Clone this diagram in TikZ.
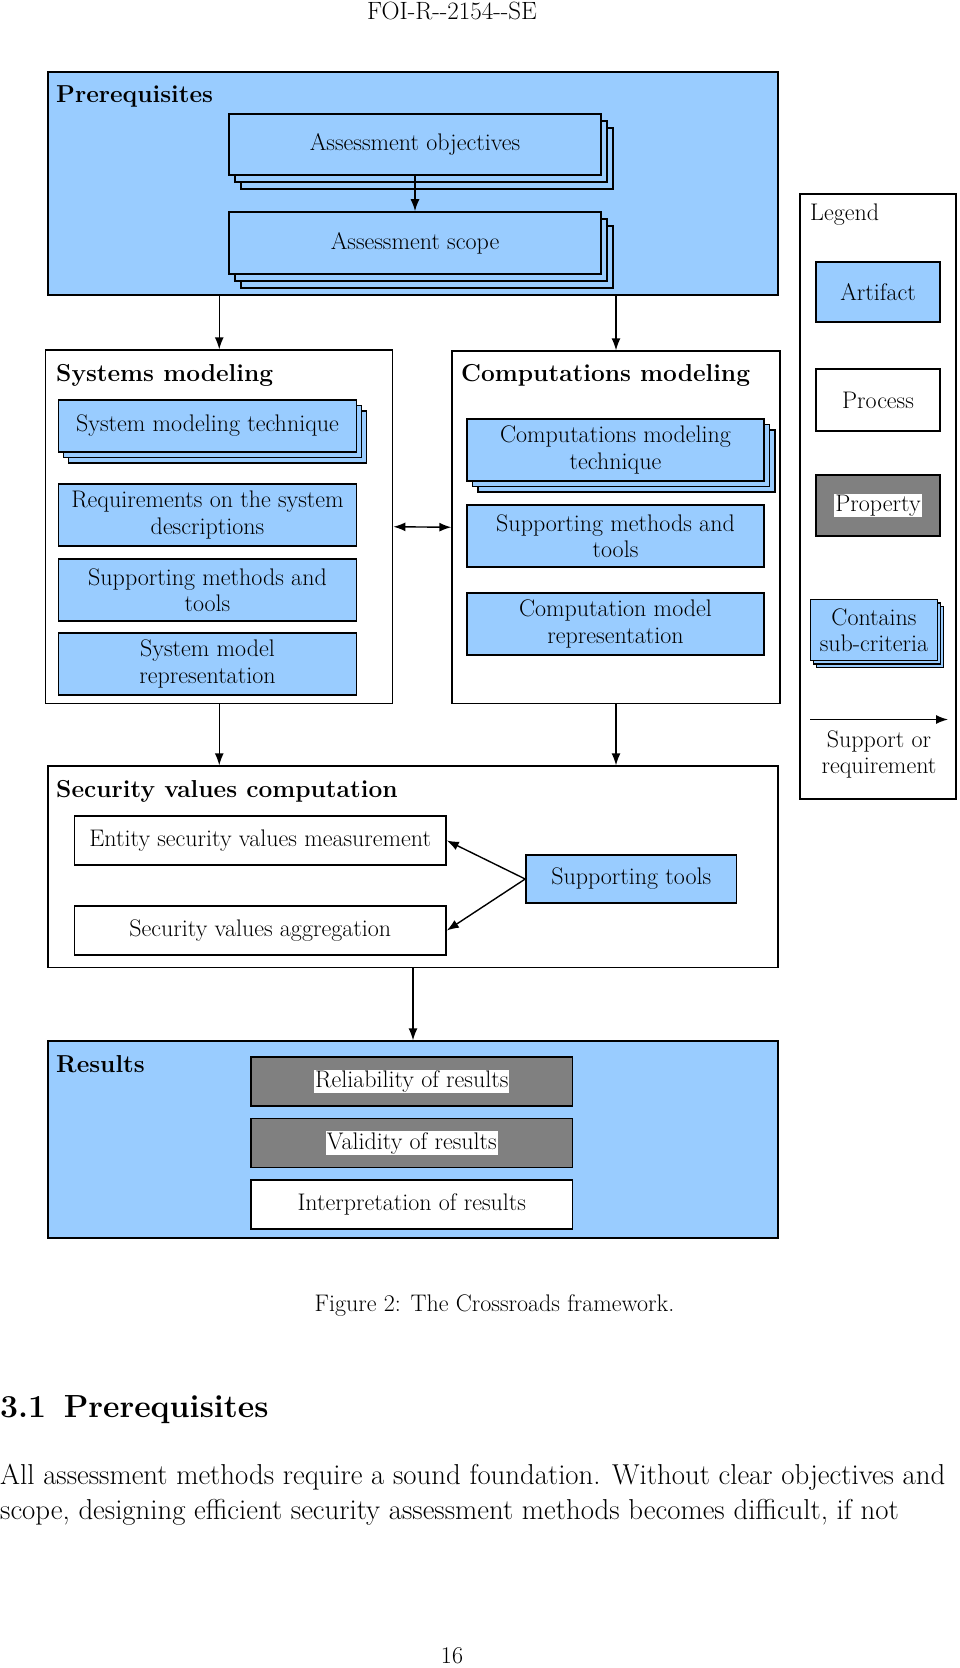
\documentclass[tikz,border=0pt]{standalone}
\usetikzlibrary{arrows.meta,shadows}
\definecolor{artblue}{RGB}{153,204,255}
\definecolor{propgray}{RGB}{128,128,128}
\newcommand{\hl}[1]{{\setlength{\fboxsep}{1pt}\colorbox{white}{#1}}}
\newcommand{\boxfont}{\fontsize{24}{26.5}\selectfont}
\newcommand{\titlefont}{\bfseries\fontsize{24.5}{28}\selectfont}
\newcommand{\pagefont}{\fontsize{28.8}{34}\selectfont}

\begin{document}
\begin{tikzpicture}[x=1pt,y=-1pt,
    >={Latex[length=12pt,width=9pt]},
    group/.style={draw,fill=white,line width=1.3pt,inner sep=0pt},
    artifact/.style={draw,fill=artblue,line width=1.6pt,inner sep=0pt,align=center,font=\boxfont},
    process/.style={artifact,fill=white},
    property/.style={artifact,fill=propgray},
    stack/.style={double copy shadow={shadow xshift=6pt,shadow yshift=-7pt}},
    title/.style={anchor=west,inner sep=0pt,font=\titlefont},
    arr/.style={line width=1.4pt}]
\useasboundingbox (0,0) rectangle (960,1668);
\fill[white] (0,0) rectangle (960,1668);
%
\node [font=\fontsize{25}{30}\selectfont] at (452,11) (header) {FOI-R-{}-2154-{}-SE};
%
\node [group,fill=artblue,minimum width=730,minimum height=223] at (413,183.5) (prereq) {};
    \node [title] at (56,96) (prereq title) {Prerequisites};
    \node [artifact,stack,minimum width=372,minimum height=61] at (415,144.5) (obj) {Assessment objectives};
    \node [artifact,stack,minimum width=372,minimum height=62] at (415,243) (scope) {Assessment scope};
%
\node [group,minimum width=347,minimum height=353.5] at (219.25,526.75) (sys) {};
    \node [title] at (56,375) (sys title) {Systems modeling};
    \node [artifact,double copy shadow={shadow xshift=5pt,shadow yshift=-5.5pt},minimum width=298,minimum height=52] at (207.5,426) (sys tech) {System modeling technique};
    \node [artifact,minimum width=298,minimum height=62] at (207.5,515) (sys req) {Requirements on the system\\descriptions};
    \node [artifact,minimum width=298,minimum height=61.5] at (207.5,590) (sys tools) {Supporting methods and\\tools};
    \node [artifact,minimum width=298,minimum height=62] at (207.5,664) (sys repr) {System model\\representation};
%
\node [group,minimum width=328,minimum height=352.5] at (616,527.25) (comp) {};
    \node [title] at (461,375) (comp title) {Computations modeling};
    \node [artifact,double copy shadow={shadow xshift=5.5pt,shadow yshift=-5.5pt},minimum width=297,minimum height=62] at (615.5,450) (comp tech) {Computations modeling\\technique};
    \node [artifact,minimum width=297,minimum height=61.5] at (615.5,536) (comp tools) {Supporting methods and\\tools};
    \node [artifact,minimum width=297,minimum height=61.5] at (615.5,624) (comp repr) {Computation model\\representation};
%
\node [group,minimum width=730,minimum height=201.5] at (413,866.75) (secval) {};
    \node [title] at (56,791) (secval title) {Security values computation};
    \node [process,minimum width=371.5,minimum height=49] at (260.25,840.5) (entity) {Entity security values measurement};
    \node [process,minimum width=371.5,minimum height=49] at (260.25,930.5) (aggr) {Security values aggregation};
    \node [artifact,minimum width=210.5,minimum height=47.5] at (631.25,879) (suptools) {Supporting tools};
%
\node [group,fill=artblue,minimum width=730,minimum height=197] at (413,1139.5) (results) {};
    \node [title] at (56,1064) (results title) {Results};
    \node [property,minimum width=321.6,minimum height=49] at (411.8,1081.5) (reliab) {\hl{Reliability of results}};
    \node [property,minimum width=321.6,minimum height=49] at (411.8,1143) (valid) {\hl{Validity of results}};
    \node [process,minimum width=321.6,minimum height=49] at (411.8,1204.5) (interp) {Interpretation of results};
%
% legend
\node [group,minimum width=156,minimum height=605] at (878,496.5) (legend) {};
    \node [anchor=west,inner sep=0pt,font=\boxfont] at (810,215) (legend title) {Legend};
    \node [artifact,minimum width=124,minimum height=60.5] at (878,292) (leg artifact) {Artifact};
    \node [process,minimum width=124,minimum height=62] at (878,400) (leg process) {Process};
    \node [property,minimum width=124,minimum height=61] at (878,505.5) (leg property) {\hl{Property}};
    \node [artifact,double copy shadow={shadow xshift=3pt,shadow yshift=-3.5pt},minimum width=127,minimum height=61,font=\fontsize{24}{25.5}\selectfont] at (874,630) (leg stack) {Contains\\sub-criteria};
    \coordinate (leg arr start) at (810,719.5);
    \coordinate (leg arr end) at (948,719.5);
    \node [align=center,font=\boxfont] at (879,754.5) (leg support) {Support or\\requirement};
%
\path[->,arr] (obj) edge (scope);
\path[->,arr] (prereq.south -| sys.north) edge (sys.north);
\path[->,arr] (prereq.south -| comp.north) edge (comp.north);
\path[<->,arr] (sys.east) edge (comp.west);
\path[->,arr] (sys.south) edge (sys.south |- secval.north);
\path[->,arr] (comp.south) edge (comp.south |- secval.north);
\path[->,arr] (suptools.west) edge (entity.east);
\path[->,arr] (suptools.west) edge (aggr.east);
\path[->,arr] (secval.south) edge (results.north);
\path[->,arr] (leg arr start) edge (leg arr end);
%
\node [font=\boxfont] at (494.5,1306) (caption) {Figure 2: The Crossroads framework.};
\node [anchor=west,inner sep=0pt,font=\bfseries\fontsize{32}{38}\selectfont] at (0,1410) (section) {3.1\hspace{0.55em}Prerequisites};
\node [anchor=west,inner sep=0pt,font=\pagefont] at (0,1477) (body one) {All assessment methods require a sound foundation. Without clear objectives and};
\node [anchor=west,inner sep=0pt,font=\pagefont] at (0,1512.5) (body two) {scope, designing efficient security assessment methods becomes difficult, if not};
\node [font=\fontsize{24}{28}\selectfont] at (452,1656) (pagenum) {16};
\end{tikzpicture}
\end{document}
